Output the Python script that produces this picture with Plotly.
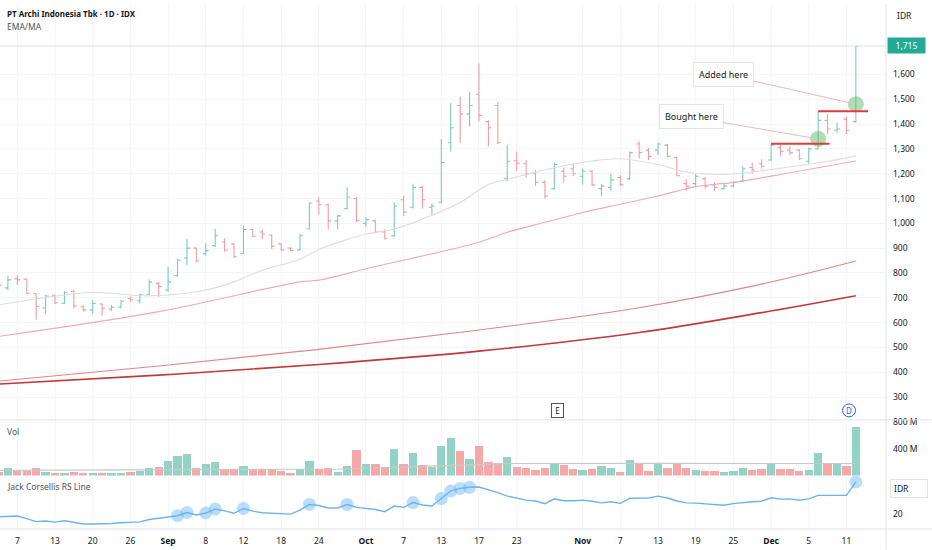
import plotly.graph_objects as go

# IDX trading days, Aug - Dec 2025
dates = [
    "2025-08-05", "2025-08-06", "2025-08-07", "2025-08-08", "2025-08-11", "2025-08-12",
    "2025-08-13", "2025-08-14", "2025-08-15", "2025-08-19", "2025-08-20", "2025-08-21",
    "2025-08-22", "2025-08-25", "2025-08-26", "2025-08-27", "2025-08-28", "2025-08-29",
    "2025-09-01", "2025-09-02", "2025-09-03", "2025-09-04", "2025-09-08", "2025-09-09",
    "2025-09-10", "2025-09-11", "2025-09-12", "2025-09-15", "2025-09-16", "2025-09-17",
    "2025-09-18", "2025-09-19", "2025-09-22", "2025-09-23", "2025-09-24", "2025-09-25",
    "2025-09-26", "2025-09-29", "2025-09-30", "2025-10-01", "2025-10-02", "2025-10-03",
    "2025-10-06", "2025-10-07", "2025-10-08", "2025-10-09", "2025-10-10", "2025-10-13",
    "2025-10-14", "2025-10-15", "2025-10-16", "2025-10-17", "2025-10-20", "2025-10-21",
    "2025-10-22", "2025-10-23", "2025-10-24", "2025-10-27", "2025-10-28", "2025-10-29",
    "2025-10-30", "2025-10-31", "2025-11-03", "2025-11-04", "2025-11-05", "2025-11-06",
    "2025-11-07", "2025-11-10", "2025-11-11", "2025-11-12", "2025-11-13", "2025-11-14",
    "2025-11-17", "2025-11-18", "2025-11-19", "2025-11-20", "2025-11-21", "2025-11-24",
    "2025-11-25", "2025-11-26", "2025-11-27", "2025-11-28", "2025-12-01", "2025-12-02",
    "2025-12-03", "2025-12-04", "2025-12-05", "2025-12-08", "2025-12-09", "2025-12-10",
    "2025-12-11", "2025-12-12",
]

opens = [
    775, 740, 776, 775, 717, 660, 710, 678, 725, 664, 651, 675, 655, 663, 698, 688, 714, 758,
    731, 790, 860, 900, 878, 910, 925, 917, 878, 975, 965, 953, 917, 900, 893, 977, 1090, 1075,
    1010, 1060, 1100, 1000, 1010, 965, 950, 1095, 1065, 1145, 1065, 1085, 1325, 1475, 1440, 1520,
    1410, 1475, 1180, 1252, 1240, 1200, 1165, 1140, 1210, 1220, 1190, 1210, 1140, 1145, 1185, 1180,
    1320, 1295, 1295, 1315, 1265, 1160, 1160, 1180, 1155, 1140, 1150, 1170, 1225, 1240, 1255, 1305,
    1295, 1295, 1250, 1300, 1415, 1375, 1420, 1410,
]
highs = [
    790, 790, 792, 778, 718, 712, 713, 727, 731, 671, 691, 678, 671, 691, 704, 717, 775, 764,
    824, 857, 937, 904, 921, 977, 940, 920, 991, 977, 975, 955, 920, 904, 957, 1084, 1105, 1080,
    1035, 1145, 1105, 1025, 1015, 975, 1085, 1110, 1160, 1150, 1080, 1340, 1485, 1510, 1530, 1645,
    1415, 1490, 1317, 1290, 1255, 1215, 1175, 1245, 1225, 1240, 1220, 1215, 1160, 1200, 1195, 1290,
    1330, 1305, 1325, 1320, 1268, 1178, 1200, 1185, 1165, 1160, 1170, 1230, 1245, 1258, 1320, 1318,
    1310, 1300, 1305, 1450, 1440, 1405, 1430, 1715,
]
lows = [
    745, 730, 752, 715, 611, 637, 675, 675, 657, 644, 637, 628, 647, 657, 684, 677, 711, 704,
    724, 784, 831, 844, 870, 905, 885, 860, 877, 944, 937, 897, 888, 887, 891, 975, 1035, 975,
    977, 1055, 1005, 985, 960, 935, 945, 1030, 1060, 1060, 1035, 1080, 1290, 1325, 1390, 1410,
    1310, 1320, 1170, 1210, 1185, 1150, 1100, 1135, 1165, 1190, 1155, 1150, 1110, 1130, 1150, 1175,
    1260, 1255, 1275, 1265, 1190, 1130, 1150, 1140, 1130, 1135, 1145, 1165, 1200, 1220, 1250, 1270,
    1275, 1255, 1240, 1300, 1360, 1365, 1360, 1405,
]
closes = [
    750, 772, 772, 718, 665, 707, 680, 722, 667, 651, 677, 658, 662, 686, 692, 712, 763, 745,
    764, 851, 900, 848, 890, 950, 892, 865, 975, 948, 957, 908, 893, 891, 950, 1082, 1075, 1010,
    1030, 1105, 1012, 1015, 965, 940, 1070, 1045, 1145, 1095, 1070, 1245, 1385, 1440, 1475, 1435,
    1385, 1325, 1250, 1242, 1200, 1165, 1110, 1237, 1190, 1200, 1210, 1155, 1150, 1175, 1155, 1285,
    1285, 1270, 1320, 1270, 1192, 1150, 1190, 1150, 1145, 1150, 1165, 1220, 1215, 1230, 1315, 1290,
    1285, 1260, 1300, 1415, 1380, 1380, 1375, 1715,
]

# volume in millions of shares
volumes_m = [
    48, 120, 72, 72, 110, 58, 34, 43, 48, 39, 39, 39, 34, 39, 48, 72, 106, 130,
    217, 289, 328, 111, 169, 202, 92, 92, 145, 87, 92, 101, 72, 43, 101, 217, 101, 120,
    58, 149, 386, 178, 169, 120, 395, 178, 337, 159, 130, 443, 564, 371, 241, 443,
    202, 183, 275, 125, 116, 87, 120, 178, 159, 92, 87, 96, 145, 106, 58, 231,
    193, 63, 169, 116, 178, 116, 87, 67, 63, 48, 63, 120, 82, 96, 193, 101,
    96, 67, 87, 337, 174, 193, 149, 723,
]

rs_line = [
    19.0, 19.1, 19.3, 18.3, 17.2, 17.4, 17.0, 17.5, 16.9, 16.3, 16.3, 16.3, 16.5, 16.8, 17.0, 17.1,
    18.0, 18.5, 19.0, 19.4, 20.6, 19.7, 20.4, 21.9, 21.2, 20.3, 22.1, 21.1, 20.5, 20.3, 20.1, 20.0,
    21.5, 23.6, 23.2, 22.3, 22.3, 23.6, 22.5, 22.1, 21.7, 20.9, 23.0, 22.5, 24.3, 23.4, 23.0, 25.8,
    28.6, 29.6, 30.0, 30.1, 29.1, 28.0, 26.7, 26.0, 25.2, 24.9, 23.9, 25.7, 25.0, 25.0, 25.2, 24.8,
    24.2, 24.6, 24.0, 25.9, 26.0, 26.0, 26.7, 26.0, 24.9, 24.2, 24.1, 23.8, 23.6, 23.3, 23.9, 24.3,
    24.6, 24.8, 26.1, 25.6, 25.7, 25.2, 25.7, 27.0, 27.0, 27.0, 27.0, 32.0,
]
rs_high_idx = [19, 20, 22, 23, 26, 33, 37, 44, 47, 48, 49, 50, 91]

# moving averages read at a few bars
ma_fast_idx = [0, 10, 15, 18, 22, 25, 28, 32, 34, 37, 39, 42, 45, 49, 52, 54, 59, 63, 66, 70, 73, 77, 82, 87, 91]
ma_fast_val = [671, 721, 708, 711, 731, 764, 811, 855, 895, 935, 957, 977, 1017, 1084, 1157, 1177,
               1224, 1251, 1260, 1237, 1207, 1197, 1217, 1244, 1271]
ma50_idx = [0, 17, 32, 34, 39, 51, 54, 58, 62, 66, 70, 74, 78, 84, 91]
ma50_val = [544, 644, 764, 771, 817, 924, 964, 1004, 1044, 1077, 1110, 1148, 1165, 1204, 1251]
ma100_idx = [0, 17, 34, 51, 68, 81, 91]
ma100_val = [364, 425, 492, 570, 660, 755, 848]
ma200_idx = [0, 17, 34, 51, 68, 81, 91]
ma200_val = [352, 388, 431, 485, 560, 640, 708]
vol_ma_idx = [0, 20, 36, 44, 50, 55, 70, 91]
vol_ma_val = [74, 80, 95, 130, 160, 177, 178, 177]

# trade marks
signal_idx = [87, 91]
signal_price = [1340, 1480]
signal_text = ["Bought here", "Added here"]
level_start = [82, 87]
level_end = [88.2, 92.3]
level_price = [1321, 1452]

date_ticks = [
    ("2025-08-07", "7"), ("2025-08-13", "13"), ("2025-08-20", "20"), ("2025-08-26", "26"),
    ("2025-09-01", "<b>Sep</b>"), ("2025-09-08", "8"), ("2025-09-12", "12"), ("2025-09-18", "18"),
    ("2025-09-24", "24"), ("2025-10-01", "<b>Oct</b>"), ("2025-10-07", "7"), ("2025-10-13", "13"),
    ("2025-10-17", "17"), ("2025-10-23", "23"), ("2025-11-03", "<b>Nov</b>"), ("2025-11-07", "7"),
    ("2025-11-13", "13"), ("2025-11-19", "19"), ("2025-11-25", "25"), ("2025-12-01", "<b>Dec</b>"),
    ("2025-12-05", "5"), ("2025-12-11", "11"),
]

FONT = "Noto Sans"
SIZE = 8.5
TEXT = "#131722"
SUBTLE = "#50535e"
GRID = "#f4f5f7"
UP = "#7ccabb"
DOWN = "#f39ca2"
VOL_UP = "#92d3c6"
VOL_DOWN = "#f6a8a8"

# pixel layout of the 932x550 page: plot area 886 wide, 529 high
PLOT_W = 886
PLOT_H = 529


def px_y(y):
    return (PLOT_H - y) / PLOT_H


def px_x(x):
    return x / PLOT_W


def build_figure():
    idx = list(range(len(dates)))
    vol_colors = [VOL_UP if c >= o else VOL_DOWN for o, c in zip(opens, closes)]

    traces = [
        go.Scatter(x=ma200_idx, y=ma200_val, mode="lines", line=dict(color="#c2393a", width=1.6, shape="spline")),
        go.Scatter(x=ma100_idx, y=ma100_val, mode="lines", line=dict(color="#e48585", width=1.1, shape="spline")),
        go.Scatter(x=ma50_idx, y=ma50_val, mode="lines", line=dict(color="#f2a9b2", width=1.1, shape="spline")),
        go.Scatter(x=ma_fast_idx, y=ma_fast_val, mode="lines", line=dict(color="#e2dadc", width=1.1, shape="spline")),
        go.Ohlc(
            x=idx, open=opens, high=highs, low=lows, close=closes,
            increasing_line_color=UP, decreasing_line_color=DOWN,
            line_width=1.1, tickwidth=0.32, hoverinfo="skip",
        ),
        go.Scatter(
            x=signal_idx, y=signal_price, mode="markers",
            marker=dict(size=16, color="rgba(102,187,106,0.5)", line_width=0),
        ),
        go.Bar(x=idx, y=volumes_m, marker_color=vol_colors, marker_line_width=0, width=0.88, yaxis="y2"),
        go.Scatter(x=vol_ma_idx, y=vol_ma_val, mode="lines", line=dict(color="#c9c9c9", width=1.2), yaxis="y2"),
        go.Scatter(
            x=rs_high_idx, y=[rs_line[i] for i in rs_high_idx], mode="markers", yaxis="y3",
            marker=dict(size=13, color="rgba(100,181,246,0.45)", line_width=0),
        ),
        go.Scatter(x=idx, y=rs_line, mode="lines", line=dict(color="#6db3f2", width=1.4), yaxis="y3"),
    ]

    figure = go.Figure(data=traces)

    shapes = [
        # pane separators and price scale border
        dict(type="line", xref="paper", yref="paper", x0=0, x1=932 / PLOT_W, y0=px_y(419), y1=px_y(419),
             line=dict(color="#e0e3eb", width=1)),
        dict(type="line", xref="paper", yref="paper", x0=0, x1=932 / PLOT_W, y0=0, y1=0,
             line=dict(color="#e0e3eb", width=1)),
        dict(type="line", xref="paper", yref="paper", x0=1, x1=1, y0=px_y(550), y1=1,
             line=dict(color="#e0e3eb", width=1)),
        # last price line
        dict(type="line", xref="paper", yref="y", x0=0, x1=1, y0=closes[-1], y1=closes[-1],
             line=dict(color="#d5e5e1", width=1)),
        # dividend marker
        dict(type="circle", xref="paper", yref="paper", x0=px_x(842.5), x1=px_x(855.5),
             y0=px_y(416), y1=px_y(403), line=dict(color="#2962ff", width=1), fillcolor="white"),
    ]
    for x0, x1, level in zip(level_start, level_end, level_price):
        shapes.append(dict(type="line", xref="x", yref="y", x0=x0, x1=x1, y0=level, y1=level,
                           line=dict(color="#e53935", width=2)))

    annotations = [
        dict(text="<b>PT Archi Indonesia Tbk · 1D · IDX</b>", x=px_x(5), y=px_y(10), font=dict(size=8, color=TEXT)),
        dict(text="EMA/MA", x=px_x(5), y=px_y(23), font=dict(size=SIZE, color=SUBTLE)),
        dict(text="Vol", x=px_x(5), y=px_y(431), font=dict(size=SIZE, color=SUBTLE)),
        dict(text="Jack Corsellis RS Line", x=px_x(5), y=px_y(486), font=dict(size=SIZE, color=SUBTLE)),
        dict(text="IDR", x=px_x(895), y=px_y(12), font=dict(size=SIZE, color=TEXT)),
        dict(text="IDR", x=px_x(890), y=px_y(488.5), font=dict(size=SIZE, color=TEXT),
             bordercolor="#e0e3eb", borderwidth=1, borderpad=3, width=30, align="left"),
        dict(text="E", x=px_x(557), y=px_y(409.5), xanchor="center", font=dict(size=8, color=TEXT),
             bordercolor=SUBTLE, borderwidth=1, borderpad=1, width=9),
        dict(text="D", x=px_x(849), y=px_y(409.5), xanchor="center", font=dict(size=8, color="#2962ff")),
        dict(text="1,715", x=px_x(887), y=closes[-1], yref="y", font=dict(size=SIZE, color="white"),
             bgcolor="#22ab94", borderpad=2, width=33),
    ]
    for i, price, text, shift in zip(signal_idx, signal_price, signal_text, [(-127, -22), (-132, -30)]):
        annotations.append(dict(
            text=text, x=i, y=price, xref="x", yref="y", xanchor="center", yanchor="middle",
            showarrow=True, arrowhead=0, arrowwidth=1, arrowcolor="#f4b3b8", standoff=6,
            ax=shift[0], ay=shift[1], font=dict(size=9, color=TEXT),
            bgcolor="white", bordercolor="#e3e5ea", borderwidth=1, borderpad=5,
        ))
    for a in annotations:
        a.setdefault("xref", "paper")
        a.setdefault("yref", "paper")
        a.setdefault("xanchor", "left")
        a.setdefault("yanchor", "middle")
        a.setdefault("showarrow", False)

    tick_pos = [dates.index(d) for d, _ in date_ticks]
    tick_text = [t for _, t in date_ticks]

    figure.update_layout(
        width=932,
        height=550,
        margin=dict(l=0, r=46, t=0, b=21),
        paper_bgcolor="white",
        plot_bgcolor="white",
        showlegend=False,
        bargap=0,
        font=dict(family=FONT, size=SIZE, color=TEXT),
        xaxis=dict(
            range=[0.16, 94.2], anchor="y3", tickvals=tick_pos, ticktext=tick_text,
            showgrid=True, gridcolor=GRID, zeroline=False, showline=False, ticks="",
            ticklabelstandoff=5, rangeslider=dict(visible=False), fixedrange=True,
        ),
        yaxis=dict(
            domain=[px_y(419), 1], range=[208, 1884], side="right", anchor="x",
            tickvals=list(range(300, 1700, 100)), tickformat=",",
            showgrid=True, gridcolor=GRID, zeroline=False, ticks="", ticklabelstandoff=6,
        ),
        yaxis2=dict(
            domain=[px_y(475), px_y(419)], range=[0, 827], side="right", anchor="x",
            tickvals=[400, 800], ticktext=["400 M", "800 M"],
            showgrid=False, zeroline=False, ticks="", ticklabelstandoff=6,
        ),
        yaxis3=dict(
            domain=[0, px_y(475)], range=[14.44, 34.44], side="right", anchor="x",
            tickvals=[20], showgrid=False, zeroline=False, ticks="", ticklabelstandoff=6,
        ),
        shapes=shapes,
        annotations=annotations,
    )
    return figure


if __name__ == "__main__":
    fig = build_figure()
    # page body margin would push the 932x550 figure out of the window
    fig.write_html(
        "out.html",
        config={"displayModeBar": False},
        post_script="document.body.style.margin='0';document.body.style.overflow='hidden';",
    )
